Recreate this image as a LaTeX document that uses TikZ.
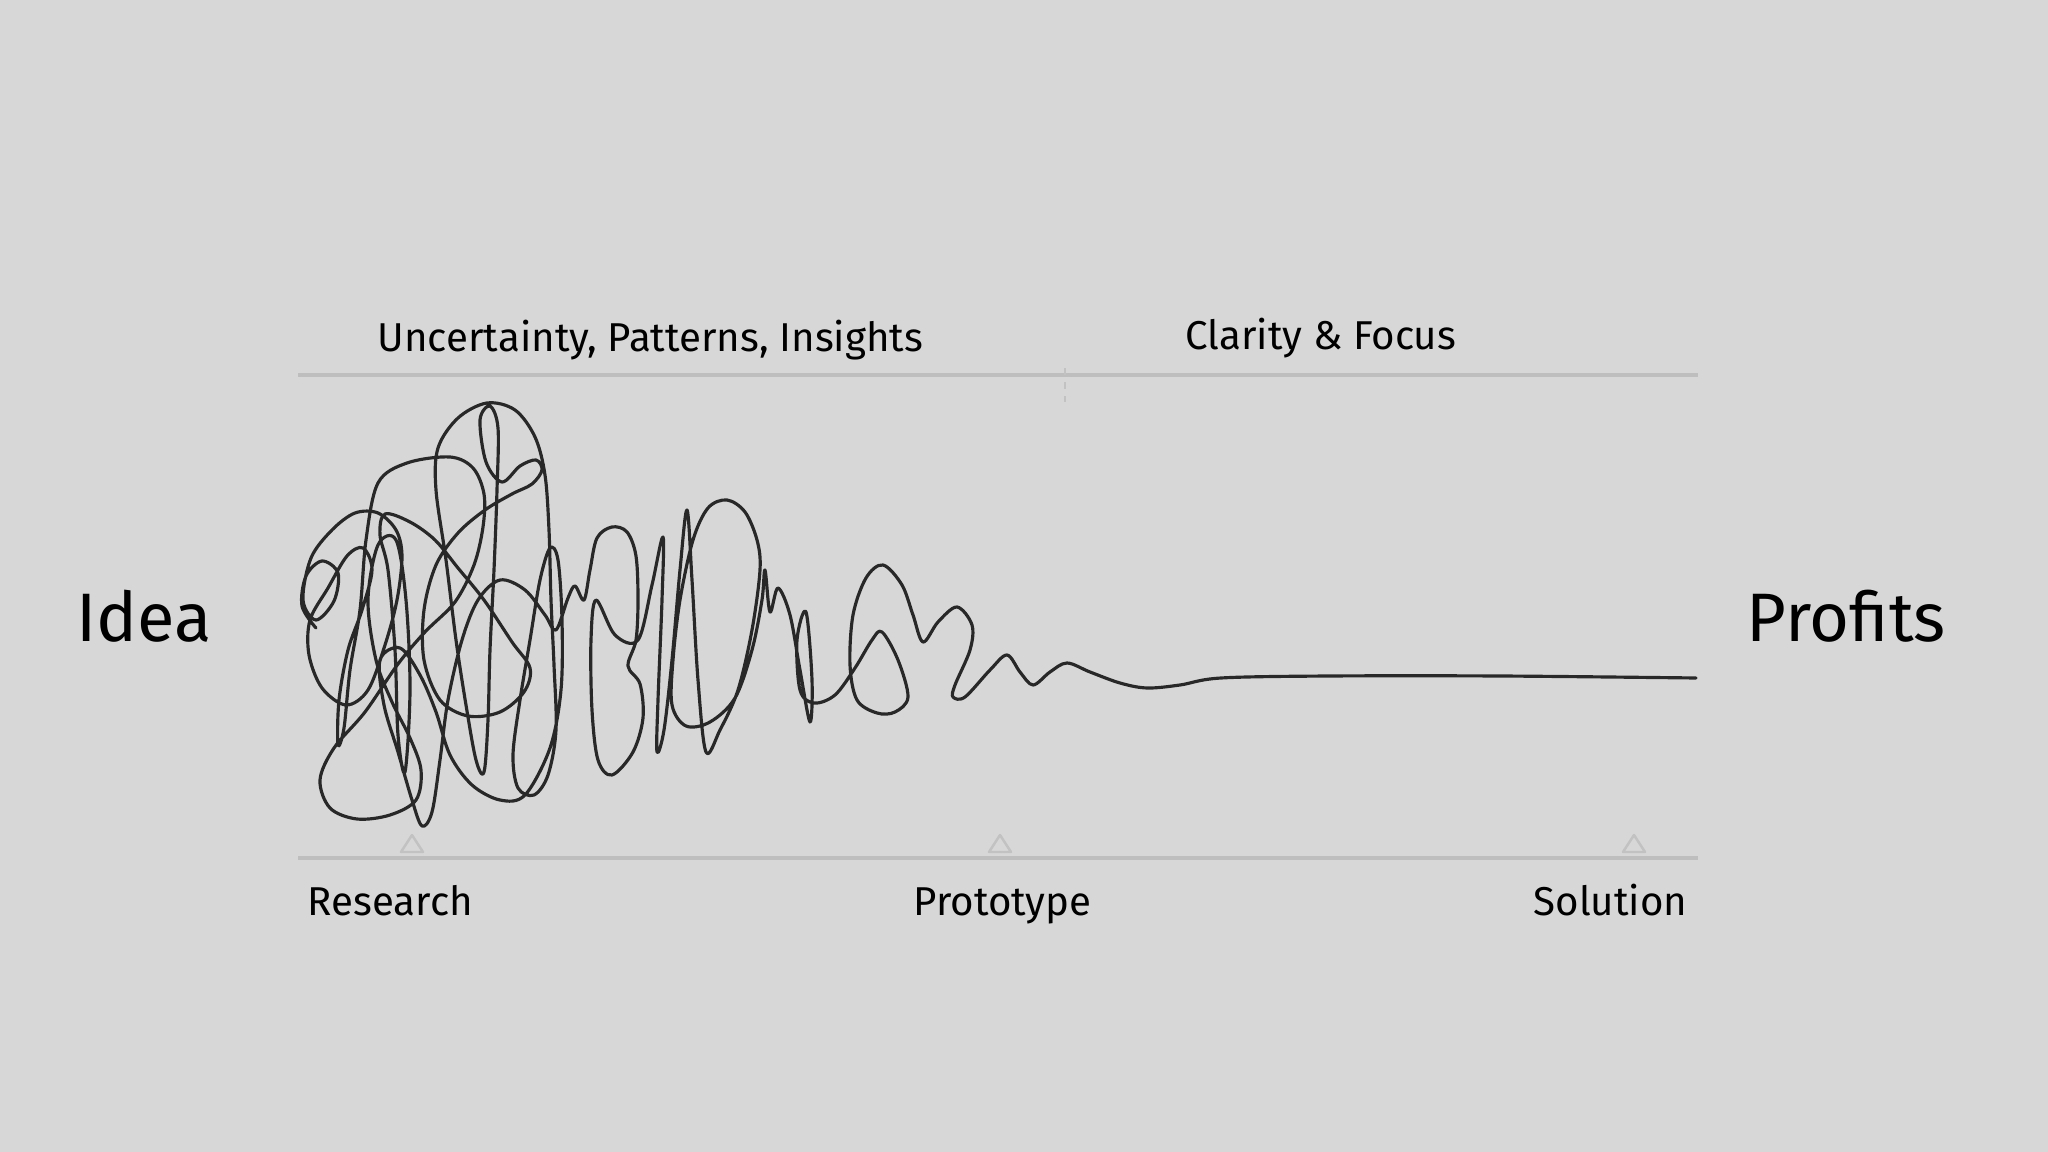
\documentclass[tikz,border=0pt]{standalone}
\usepackage{fontspec}
\setmainfont{Fira Sans}
\usetikzlibrary{positioning}
\definecolor{sbback}{RGB}{215,215,215}
\definecolor{sbrule}{RGB}{190,190,190}
\definecolor{sbmark}{RGB}{194,194,194}
\definecolor{sbpen}{RGB}{40,40,40}
\tikzstyle{guide} = [line width=0.9pt, color=sbrule]
\tikzstyle{milestone} = [line width=0.7pt, color=sbmark, line join=round]
\tikzstyle{phase} = [inner sep=0pt, anchor=base west, font=\fontsize{11.45}{14}\selectfont]
\tikzstyle{endpoint} = [inner sep=0pt, anchor=base west, font=\fontsize{19.5}{23}\selectfont]
\tikzstyle{scribble} = [line width=0.9pt, color=sbpen, line join=round, line cap=round]
\begin{document}
\begin{tikzpicture}[x=0.01cm, y=-0.01cm]
% Background
\fill[sbback] (0,0) rectangle (2048,1152);
\useasboundingbox (0,0) rectangle (2048,1152);

% Guide lines
\coordinate (topleft) at (298,375);
\coordinate (topright) at (1698,375);
\coordinate (botleft) at (298,858);
\coordinate (botright) at (1698,858);
\draw[guide] (topleft) -- (topright);
\draw[guide] (botleft) -- (botright);
\draw[sbmark, line width=0.6pt, dash pattern=on 2pt off 2pt] (1065,368) -- (1065,402);

% Milestones
\foreach \mx in {412,1000,1634}
  \draw[milestone] (\mx-11,852) -- (\mx,835) -- (\mx+11,852) -- cycle;

% Labels
\node[phase] (uncert) at (377,352) {Uncertainty, Patterns, Insights};
\node[phase] (clarity) at (1185,350) {Clarity \& Focus};
\node[phase] (research) at (307,915) {Research};
\node[phase] (prototype) at (913,915) {Prototype};
\node[phase] (solution) at (1533,915) {Solution};
\node[endpoint] (idea) at (76,641) {Idea};
\node[endpoint] (profits) at (1746,642) {Profits};

% Scribble
\draw[scribble] plot[smooth, tension=0.55] coordinates {
  (316,628) (302,606) (306,576) (322,561) (338,573) (334,601) (316,620) (303,600)
  (311,558) (332,530) (355,513) (378,513) (396,530) (402,556) (397,600) (385,645)
  (368,690) (346,705) (322,688) (309,655) (310,620) (328,588) (347,556) (363,548)
  (372,570) (362,610) (348,650) (339,700) (338,745) (344,728) (350,670) (360,610)
  (366,540) (378,483) (407,463) (450,457) (473,468) (484,494) (483,527) (474,565)
  (455,602) (425,632) (398,664) (365,712) (334,748) (320,780) (330,808) (357,819)
  (390,815) (416,800) (421,770) (410,738) (392,702) (376,660) (368,600) (378,545)
  (396,540) (406,600) (410,690) (405,772) (398,735) (395,650) (388,570) (380,535)
  (385,514) (410,522) (435,540) (458,568) (484,600) (512,642) (530,668) (524,692)
  (500,712) (468,716) (440,700) (424,660) (424,610) (436,565) (458,533) (485,510)
  (512,494) (532,484) (542,470) (536,460) (520,466) (502,482) (486,462) (480,420)
  (490,406) (498,428) (497,490) (494,570) (490,650) (488,720) (484,772) (476,760)
  (466,705) (456,640) (446,560) (436,490) (438,448) (458,418) (487,403) (515,410)
  (535,437) (545,475) (549,530) (551,600) (554,665) (556,730) (548,775) (534,795)
  (518,788) (513,755) (520,700) (530,640) (540,580) (550,548) (558,560) (562,620)
  (561,690) (550,748) (525,795) (500,800) (472,785) (450,755) (436,712) (420,675)
  (400,648) (380,660) (384,705) (398,752) (412,800) (422,826) (432,812) (440,760)
  (448,700) (462,640) (478,600) (500,580) (525,590) (545,615) (556,630)
  (568,598) (575,586) (584,600) (590,570) (597,538) (612,527) (627,532) (636,556)
  (638,600) (636,640) (628,666) (640,684) (643,718) (633,752) (612,775) (598,760)
  (592,710) (591,640) (596,600) (615,635) (638,640) (652,585) (663,537) (662,600)
  (658,700) (657,752) (664,730) (672,660) (680,570) (687,510) (692,580) (698,680)
  (706,752) (720,730) (738,690) (752,630) (760,570) (757,540) (745,512) (727,500)
  (708,508) (693,540) (680,600) (673,660) (672,705) (686,726) (710,722) (735,698)
  (752,650) (762,600) (765,570) (770,612) (778,588) (790,615) (800,670) (810,722)
  (812,680) (806,612) (797,640) (800,690) (814,703) (835,695) (855,668) (872,640)
  (882,632) (898,660) (908,697) (895,712) (877,713) (857,700) (850,665) (853,615)
  (866,578) (883,565) (902,585) (913,615) (923,642) (938,622) (957,607) (972,625)
  (970,650) (955,685) (953,697) (965,697) (990,670) (1007,655) (1020,672) (1033,685)
  (1050,672) (1067,663) (1090,672) (1120,683) (1147,688) (1180,685) (1221,678)
  (1329,676) (1500,676) (1696,678)
};
\end{tikzpicture}
\end{document}
